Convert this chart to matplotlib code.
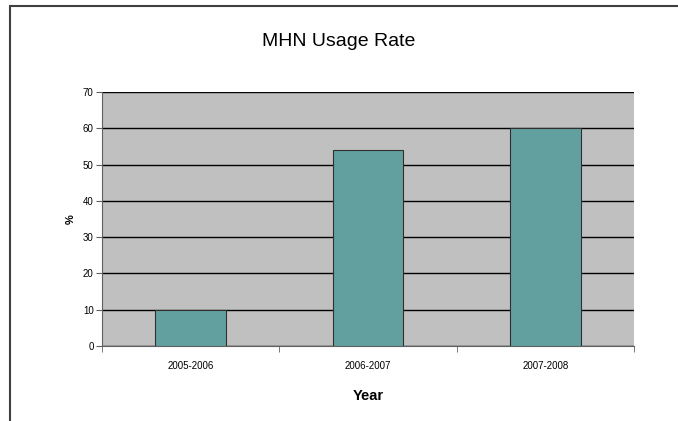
import matplotlib
matplotlib.use("Agg")
from matplotlib import pyplot as plt
from matplotlib.patches import Rectangle

plt.rcParams['font.family'] = ['Liberation Sans', 'DejaVu Sans']

# chart data
years = ["2005-2006", "2006-2007", "2007-2008"]
usage = [10, 54, 60]
yticks = [0, 10, 20, 30, 40, 50, 60, 70]

fig = plt.figure(figsize=(6.78, 4.21), dpi=100)
ax = fig.add_axes([102 / 678, 1 - 346 / 421, 532 / 678, 254 / 421])
ax.set_facecolor('#C0C0C0')

pos = list(range(len(years)))
ax.bar(pos, usage, width=0.4, color='#62A0A0', edgecolor='#303030', linewidth=0.8, zorder=3)

ax.set_xlim(-0.5, 2.5)
ax.set_ylim(0, 70)
ax.set_yticks(yticks)
ax.set_xticks(pos)
ax.set_xticklabels(years, fontsize=7)
ax.tick_params(axis='x', length=0, pad=11)
ax.set_xticks([-0.5, 0.5, 1.5, 2.5], minor=True)
ax.tick_params(axis='x', which='minor', length=4, direction='out', color='#606060')
ax.tick_params(axis='y', labelsize=7, length=4, direction='out', color='#606060', pad=2)
ax.grid(axis='y', color='black', linewidth=1.0, zorder=1)
ax.set_axisbelow(True)

for s in ['top', 'right']:
    ax.spines[s].set_visible(False)
ax.spines['left'].set_color('#606060')
ax.spines['bottom'].set_color('#606060')

ax.set_xlabel("Year", fontsize=10.5, fontweight='bold', labelpad=13)
ax.set_ylabel("%", fontsize=8, fontweight='bold', labelpad=5)
fig.text(0.5, 1 - 42 / 421, "MHN Usage Rate", ha='center', va='center', fontsize=14)

# outer chart border
fig.patches.append(Rectangle((9.5 / 678, -0.1), 1.2, 1 - 5.5 / 421 + 0.1,
                             transform=fig.transFigure, fill=False,
                             edgecolor='#404040', linewidth=1.5))

fig.savefig("out.png", dpi=100)
